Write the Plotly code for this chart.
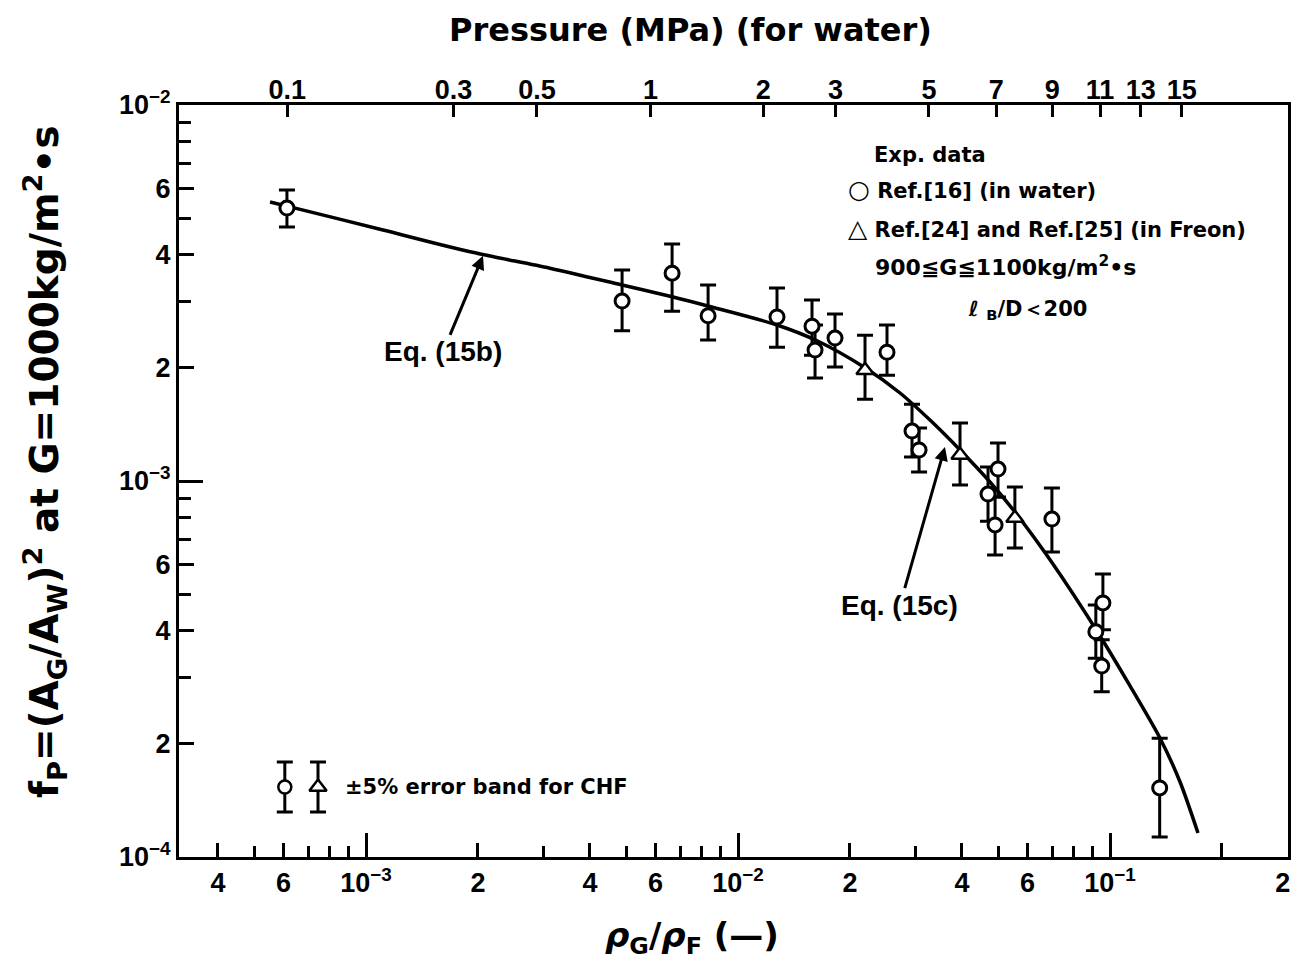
import math
import plotly.graph_objects as go

# ---------------- data ----------------
# Ref.[16] (water) data points: rhoG/rhoF, fP, upper/lower error limits
circ_x = [6.13e-4, 4.88e-3, 6.65e-3, 8.31e-3, 1.273e-2, 1.581e-2, 1.611e-2, 1.823e-2, 2.515e-2,
          2.936e-2, 3.067e-2, 5.00e-2, 4.70e-2, 4.91e-2, 6.98e-2, 9.57e-2, 9.16e-2, 9.50e-2, 0.136]
circ_y = [5.32e-3, 3.01e-3, 3.57e-3, 2.75e-3, 2.73e-3, 2.58e-3, 2.23e-3, 2.40e-3, 2.20e-3,
          1.358e-3, 1.209e-3, 1.076e-3, 9.23e-4, 7.64e-4, 7.92e-4, 4.74e-4, 3.97e-4, 3.22e-4, 1.526e-4]
circ_hi = [5.94e-3, 3.64e-3, 4.27e-3, 3.32e-3, 3.26e-3, 3.03e-3, 2.60e-3, 2.78e-3, 2.60e-3,
           1.60e-3, 1.384e-3, 1.262e-3, 1.089e-3, 9.07e-4, 9.58e-4, 5.66e-4, 4.68e-4, 3.78e-4, 2.07e-4]
circ_lo = [4.74e-3, 2.51e-3, 2.83e-3, 2.37e-3, 2.27e-3, 2.16e-3, 1.88e-3, 2.01e-3, 1.91e-3,
           1.158e-3, 1.057e-3, 9.07e-4, 7.82e-4, 6.36e-4, 6.47e-4, 4.02e-4, 3.38e-4, 2.75e-4, 1.13e-4]

# Ref.[24], Ref.[25] (Freon) data points
tri_x = [2.195e-2, 3.952e-2, 5.55e-2]
tri_y = [1.97e-3, 1.173e-3, 7.97e-4]
tri_hi = [2.44e-3, 1.426e-3, 9.64e-4]
tri_lo = [1.65e-3, 9.76e-4, 6.63e-4]

# Eq. (15b)/(15c) curve
curve_x = [5.52e-4, 6.25e-4, 1.111e-3, 1.905e-3, 3.12e-3, 4.88e-3, 6.65e-3, 8.30e-3, 1.273e-2,
           1.631e-2, 2.195e-2, 2.726e-2, 3.282e-2, 3.952e-2, 4.757e-2, 5.553e-2, 6.90e-2,
           9.40e-2, 0.1132, 0.1363, 0.1543, 0.1724]
curve_y = [5.52e-3, 5.36e-3, 4.65e-3, 4.07e-3, 3.68e-3, 3.32e-3, 3.09e-3, 2.92e-3, 2.60e-3,
           2.36e-3, 2.00e-3, 1.714e-3, 1.452e-3, 1.209e-3, 9.94e-4, 8.27e-4, 6.17e-4,
           3.87e-4, 2.85e-4, 2.07e-4, 1.583e-4, 1.158e-4]

# error band key symbols (bottom-left)
key_circ_x = [6.05e-4]
key_tri_x = [7.43e-4]
key_y = [1.535e-4]
key_hi = [1.79e-4]
key_lo = [1.318e-4]

# bottom axis ticks
x_tickvals = [4e-4, 6e-4, 1e-3, 2e-3, 4e-3, 6e-3, 1e-2, 2e-2, 4e-2, 6e-2, 1e-1, 2e-1]
x_ticktext = ["4", "6", "10<sup>−3</sup>", "2", "4", "6", "10<sup>−2</sup>", "2", "4", "6",
              "10<sup>−1</sup>", "\u2003\u2003\u2003\u2003\u20022"]
x_minor = [5e-4, 7e-4, 8e-4, 9e-4, 3e-3, 5e-3, 7e-3, 8e-3, 9e-3, 3e-2, 5e-2, 7e-2, 8e-2, 9e-2]
x_decades = [1e-3, 1e-2, 1e-1]

# top axis: water pressure (MPa) at the corresponding rhoG/rhoF
p_ratio = [6.14e-4, 1.72e-3, 2.88e-3, 5.82e-3, 1.17e-2, 1.83e-2, 3.26e-2, 4.95e-2, 7.0e-2,
           9.4e-2, 0.121, 0.156]
p_labels = ["0.1", "0.3", "0.5", "1", "2", "3", "5", "7", "9", "11", "13", "15"]

# left axis ticks
y_tickvals = [1e-4, 2e-4, 4e-4, 6e-4, 1e-3, 2e-3, 4e-3, 6e-3, 1e-2]
y_ticktext = ["10<sup>−4</sup>", "2", "4", "6", "10<sup>−3</sup>", "2", "4", "6", "10<sup>−2</sup>"]
y_minor = [3e-4, 5e-4, 7e-4, 8e-4, 9e-4, 3e-3, 5e-3, 7e-3, 8e-3, 9e-3]
y_decades = [1e-3]

# ---------------- figure ----------------
W, H = 1306, 967
L, R, T, B = 179, 18, 105, 110
XR = [-3.5027, -0.5215]
YR = [-4, -2]

NARROW = "Liberation Sans, Arial, sans-serif"
ROUND = "DejaVu Sans, Liberation Sans, Arial, sans-serif"
BLK = "black"

fig = go.Figure()


def err(y, hi, lo):
    return dict(type="data", symmetric=False,
                array=[h - v for h, v in zip(hi, y)],
                arrayminus=[v - l for v, l in zip(y, lo)],
                color=BLK, thickness=3, width=8)


fig.add_trace(go.Scatter(x=curve_x, y=curve_y, mode="lines",
                         line=dict(color=BLK, width=3.5, shape="spline", smoothing=0.8),
                         showlegend=False, hoverinfo="skip"))
fig.add_trace(go.Scatter(x=circ_x, y=circ_y, mode="markers",
                         marker=dict(symbol="circle", size=14, color="white", opacity=1,
                                     line=dict(color=BLK, width=3)),
                         error_y=err(circ_y, circ_hi, circ_lo), showlegend=False))
fig.add_trace(go.Scatter(x=tri_x, y=tri_y, mode="markers",
                         marker=dict(symbol="triangle-up", size=15, color="white", opacity=1,
                                     line=dict(color=BLK, width=2.5)),
                         error_y=err(tri_y, tri_hi, tri_lo), showlegend=False))
fig.add_trace(go.Scatter(x=key_circ_x, y=key_y, mode="markers",
                         marker=dict(symbol="circle", size=13, color="white", opacity=1,
                                     line=dict(color=BLK, width=2.5)),
                         error_y=err(key_y, key_hi, key_lo), showlegend=False))
fig.add_trace(go.Scatter(x=key_tri_x, y=key_y, mode="markers",
                         marker=dict(symbol="triangle-up", size=15, color="white", opacity=1,
                                     line=dict(color=BLK, width=2.5)),
                         error_y=err(key_y, key_hi, key_lo), showlegend=False))
# anchor traces for overlay axes
fig.add_trace(go.Scatter(x=[], y=[], xaxis="x2", yaxis="y", showlegend=False))
fig.add_trace(go.Scatter(x=[], y=[], xaxis="x3", yaxis="y", showlegend=False))
fig.add_trace(go.Scatter(x=[], y=[], xaxis="x", yaxis="y2", showlegend=False))

tickfont = dict(family=NARROW, size=27, color=BLK, weight="bold")

fig.update_layout(
    width=W, height=H,
    margin=dict(l=L, r=R, t=T, b=B),
    paper_bgcolor="white", plot_bgcolor="white",
    xaxis=dict(type="log", range=XR, tickmode="array", tickvals=x_tickvals, ticktext=x_ticktext,
               ticks="inside", ticklen=14, tickwidth=3, tickcolor=BLK,
               showline=True, linewidth=3, linecolor=BLK, mirror=True,
               showgrid=False, zeroline=False, tickfont=tickfont,
               minor=dict(tickmode="array", tickvals=x_minor, ticks="inside", ticklen=11,
                          tickwidth=3, tickcolor=BLK, showgrid=False)),
    xaxis2=dict(type="log", range=XR, overlaying="x", side="top", anchor="y",
                tickmode="array", tickvals=p_ratio, ticktext=p_labels,
                ticks="inside", ticklen=12, tickwidth=3, tickcolor=BLK,
                showline=False, showgrid=False, zeroline=False, tickfont=tickfont),
    xaxis3=dict(type="log", range=XR, overlaying="x", side="bottom", anchor="y",
                tickmode="array", tickvals=x_decades, showticklabels=False,
                ticks="inside", ticklen=24, tickwidth=3, tickcolor=BLK,
                showline=False, showgrid=False, zeroline=False),
    yaxis=dict(type="log", range=YR, tickmode="array", tickvals=y_tickvals, ticktext=y_ticktext,
               ticks="inside", ticklen=15, tickwidth=3, tickcolor=BLK,
               showline=True, linewidth=3, linecolor=BLK, mirror=True,
               showgrid=False, zeroline=False, tickfont=tickfont,
               minor=dict(tickmode="array", tickvals=y_minor, ticks="inside", ticklen=12,
                          tickwidth=3, tickcolor=BLK, showgrid=False)),
    yaxis2=dict(type="log", range=YR, overlaying="y", side="left", anchor="x",
                tickmode="array", tickvals=y_decades, showticklabels=False,
                ticks="inside", ticklen=24, tickwidth=3, tickcolor=BLK,
                showline=False, showgrid=False, zeroline=False),
    showlegend=False,
)

pw = W - L - R
ph = H - T - B


def px(xp):
    return (xp - L) / pw


def py(yp):
    return (H - B - yp) / ph


ann = []
# titles
ann.append(dict(text="Pressure (MPa) (for water)", xref="paper", yref="paper",
                x=px(690), y=py(30), xanchor="center", yanchor="middle", showarrow=False,
                font=dict(family=ROUND, size=32, color=BLK, weight="bold")))
ann.append(dict(text="<i>ρ</i><sub>G</sub>/<i>ρ</i><sub>F</sub> (—)", xref="paper", yref="paper",
                x=px(692), y=py(937), xanchor="center", yanchor="middle", showarrow=False,
                font=dict(family=ROUND, size=34, color=BLK, weight="bold")))
ann.append(dict(text="f<sub>P</sub>=(A<sub>G</sub>/A<sub>W</sub>)<sup>2</sup> at G=1000kg/m<sup>2</sup>•s",
                xref="paper", yref="paper", x=px(45), y=py(462), xanchor="center", yanchor="middle",
                textangle=-90, showarrow=False,
                font=dict(family=ROUND, size=39, color=BLK, weight="bold")))
# legend box text
leg_font = dict(family=ROUND, size=21, color=BLK, weight="bold")
ann.append(dict(text="Exp. data", xref="paper", yref="paper", x=px(872), y=py(155),
                xanchor="left", yanchor="middle", showarrow=False, font=leg_font))
ann.append(dict(text="<span style='font-size:25px'>○</span> Ref.[16] (in water)", xref="paper",
                yref="paper", x=px(846), y=py(190),
                xanchor="left", yanchor="middle", showarrow=False, font=leg_font))
ann.append(dict(text="<span style='font-size:25px'>△</span> Ref.[24] and Ref.[25] (in Freon)",
                xref="paper", yref="paper", x=px(846),
                y=py(228), xanchor="left", yanchor="middle", showarrow=False, font=leg_font))
ann.append(dict(text="900≦G≦1100kg/m<sup>2</sup>•s", xref="paper", yref="paper", x=px(873),
                y=py(266), xanchor="left", yanchor="middle", showarrow=False,
                font=dict(family=ROUND, size=22, color=BLK, weight="bold")))
ann.append(dict(text="<i>ℓ</i> <sub>B</sub>/D＜200", xref="paper", yref="paper", x=px(966),
                y=py(310), xanchor="left", yanchor="middle", showarrow=False, font=leg_font))
ann.append(dict(text="±5% error band for CHF", xref="paper", yref="paper", x=px(343),
                y=py(787), xanchor="left", yanchor="middle", showarrow=False, font=leg_font))
# equation labels with arrows (head at curve point, in log10 data units)
eq_font = dict(family=NARROW, size=28, color=BLK, weight="bold")
ann.append(dict(text="Eq. (15b)", xref="x", yref="y", x=math.log10(2.063e-3), y=math.log10(3.97e-3),
                ax=-40, ay=96, showarrow=True, arrowhead=2, arrowsize=0.9, arrowwidth=3,
                arrowcolor=BLK, font=eq_font))
ann.append(dict(text="Eq. (15c)", xref="x", yref="y", x=math.log10(3.60e-2), y=math.log10(1.231e-3),
                ax=-45, ay=158, showarrow=True, arrowhead=2, arrowsize=0.9, arrowwidth=3,
                arrowcolor=BLK, font=eq_font))
fig.update_layout(annotations=ann)

fig.write_html("out.html")
